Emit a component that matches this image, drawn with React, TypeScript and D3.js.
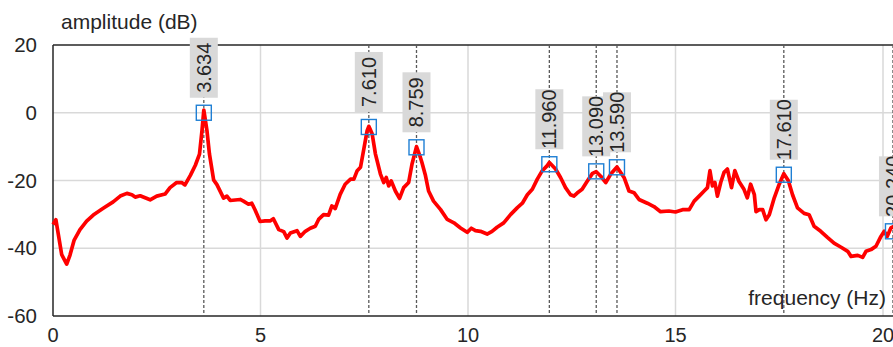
import * as React from "react";
import * as d3 from "d3";

// spectrum
const freq = [
  0.0, 0.07, 0.13, 0.21, 0.33, 0.41, 0.51, 0.65, 0.81, 0.97, 1.21, 1.45, 1.62, 1.78, 1.9, 1.98,
  2.1, 2.34, 2.5, 2.7, 2.82, 2.98, 3.1, 3.18, 3.31, 3.43, 3.53, 3.59, 3.634, 3.71, 3.77, 3.87,
  3.95, 4.11, 4.19, 4.27, 4.51, 4.59, 4.71, 4.79, 4.87, 4.99, 5.11, 5.24, 5.31, 5.44, 5.56, 5.64,
  5.72, 5.88, 5.96, 6.08, 6.2, 6.32, 6.4, 6.52, 6.64, 6.72, 6.8, 6.92, 7.04, 7.17, 7.25, 7.33,
  7.41, 7.49, 7.57, 7.61, 7.69, 7.77, 7.89, 7.97, 8.03, 8.09, 8.15, 8.25, 8.35, 8.45, 8.57, 8.65,
  8.759, 8.84, 8.89, 8.97, 9.05, 9.17, 9.34, 9.5, 9.66, 9.82, 9.98, 10.08, 10.18, 10.3, 10.46,
  10.58, 10.7, 10.86, 11.03, 11.19, 11.31, 11.43, 11.55, 11.67, 11.79, 11.91, 11.96, 12.11,
  12.23, 12.35, 12.47, 12.55, 12.63, 12.75, 12.88, 13.0, 13.09, 13.21, 13.32, 13.44, 13.59,
  13.76, 13.88, 14.0, 14.12, 14.32, 14.48, 14.64, 14.84, 15.0, 15.17, 15.33, 15.45, 15.57, 15.69,
  15.77, 15.83, 15.89, 15.95, 16.01, 16.09, 16.17, 16.25, 16.35, 16.43, 16.53, 16.65, 16.73,
  16.81, 16.9, 16.94, 17.02, 17.1, 17.18, 17.26, 17.38, 17.5, 17.61, 17.72, 17.82, 17.94, 18.1,
  18.22, 18.34, 18.5, 18.66, 18.82, 18.99, 19.15, 19.23, 19.39, 19.51, 19.59, 19.71, 19.83,
  19.95, 20.03, 20.1, 20.19, 20.27,
];
const amplitude = [
  -33.0, -31.6, -36.0, -41.9, -44.7, -42.0, -37.6, -34.5, -32.0, -30.2, -28.2, -26.3, -24.6,
  -23.8, -24.2, -24.9, -24.5, -25.7, -24.6, -24.0, -22.1, -20.6, -20.6, -21.3, -18.5, -15.5,
  -12.2, -5.3, 0.8, -5.3, -12.2, -19.8, -21.2, -25.2, -24.6, -25.9, -25.6, -26.1, -27.0, -26.7,
  -28.7, -32.1, -31.9, -31.9, -31.3, -34.5, -35.1, -37.0, -35.5, -34.8, -36.5, -35.0, -34.1,
  -33.5, -31.5, -30.1, -30.2, -27.5, -28.3, -24.1, -21.1, -19.6, -19.6, -17.1, -16.1, -10.7,
  -5.3, -4.0, -6.2, -12.2, -18.1, -20.6, -19.1, -21.6, -20.1, -23.1, -25.3, -22.1, -20.6, -15.2,
  -10.0, -12.7, -14.7, -18.3, -23.1, -26.1, -28.6, -31.5, -32.5, -34.0, -35.3, -34.1, -34.8,
  -35.0, -35.8, -35.0, -33.8, -32.5, -30.0, -28.0, -26.7, -24.2, -22.6, -19.6, -17.1, -15.6,
  -14.7, -16.6, -19.1, -22.1, -24.2, -24.6, -23.7, -22.6, -20.1, -17.9, -17.4, -18.9, -20.6,
  -18.1, -16.0, -19.1, -23.1, -23.6, -25.6, -26.7, -27.7, -29.2, -29.0, -29.3, -28.6, -28.6,
  -26.1, -24.6, -23.1, -22.1, -17.1, -21.6, -20.6, -24.6, -20.6, -17.6, -16.6, -22.1, -17.1,
  -20.3, -22.6, -25.1, -21.1, -24.2, -29.2, -28.6, -28.6, -31.6, -30.1, -25.1, -21.1, -18.0,
  -20.1, -24.2, -28.1, -29.7, -30.1, -33.5, -35.0, -36.8, -38.5, -39.7, -40.9, -42.4, -42.1,
  -42.7, -40.9, -40.4, -39.4, -36.5, -35.0, -36.5, -34.0, -33.5,
];

// picked peaks
const peakFreq = [3.634, 7.61, 8.759, 11.96, 13.09, 13.59, 17.61, 20.24];
const peakAmp = [0, -4.2, -10.2, -15.2, -17.3, -16.1, -18.3, -35];

const xTicks = [0, 5, 10, 15, 20];
const yTicks = [20, 0, -20, -40, -60];

const W = 893;
const H = 347;
const FONT = "Liberation Sans, Arial, sans-serif";

export default function App() {
  const ref = React.useRef<SVGSVGElement>(null);

  React.useEffect(() => {
    const svg = d3.select(ref.current);
    svg.selectAll("*").remove();

    const x = d3.scaleLinear().domain([0, 20]).range([53, 883]);
    const y = d3.scaleLinear().domain([-60, 20]).range([316, 45]);
    const right = W;

    // grid
    svg.append("g")
      .selectAll("line.h")
      .data(yTicks.filter((t) => t !== 20 && t !== -60))
      .enter()
      .append("line")
      .attr("x1", x(0)).attr("x2", right)
      .attr("y1", (d) => y(d)).attr("y2", (d) => y(d))
      .attr("stroke", "#d9d9d9").attr("stroke-width", 1.5);
    svg.append("g")
      .selectAll("line.v")
      .data(xTicks.filter((t) => t !== 0))
      .enter()
      .append("line")
      .attr("x1", (d) => x(d)).attr("x2", (d) => x(d))
      .attr("y1", y(20)).attr("y2", y(-60))
      .attr("stroke", "#d9d9d9").attr("stroke-width", 1.5);

    // frame
    svg.append("line").attr("x1", x(0)).attr("x2", right).attr("y1", y(20)).attr("y2", y(20))
      .attr("stroke", "#262626").attr("stroke-width", 1.5);
    svg.append("line").attr("x1", x(0)).attr("x2", right).attr("y1", y(-60)).attr("y2", y(-60))
      .attr("stroke", "#262626").attr("stroke-width", 1.5);
    svg.append("line").attr("x1", x(0)).attr("x2", x(0)).attr("y1", y(20)).attr("y2", y(-60))
      .attr("stroke", "#262626").attr("stroke-width", 1.5);

    // tick labels
    svg.append("g")
      .selectAll("text")
      .data(yTicks)
      .enter()
      .append("text")
      .attr("x", 37).attr("y", (d) => y(d))
      .attr("dy", "0.35em")
      .attr("text-anchor", "end")
      .style("font-family", FONT).style("font-size", "20.5px").style("fill", "#262626")
      .text((d) => d);
    svg.append("g")
      .selectAll("text")
      .data(xTicks)
      .enter()
      .append("text")
      .attr("x", (d) => x(d)).attr("y", 342)
      .attr("text-anchor", "middle")
      .style("font-family", FONT).style("font-size", "20px").style("fill", "#262626")
      .text((d) => d);

    svg.append("text").attr("x", 61).attr("y", 29)
      .style("font-family", FONT).style("font-size", "21px").style("fill", "#262626")
      .text("amplitude (dB)");
    svg.append("text").attr("x", 886).attr("y", 305)
      .attr("text-anchor", "end")
      .style("font-family", FONT).style("font-size", "21px").style("fill", "#262626")
      .text("frequency (Hz)");

    // dashed peak lines
    svg.append("g")
      .selectAll("line")
      .data(peakFreq)
      .enter()
      .append("line")
      .attr("x1", (d) => x(d)).attr("x2", (d) => x(d))
      .attr("y1", y(20)).attr("y2", y(-60))
      .attr("stroke", "#595959").attr("stroke-width", 1.3)
      .attr("stroke-dasharray", "3,2");

    // spectrum
    const pts = freq.map((f, i) => [f, amplitude[i]] as [number, number]);
    const line = d3.line<[number, number]>().x((d) => x(d[0])).y((d) => y(d[1]));
    svg.append("path")
      .attr("d", line(pts))
      .attr("fill", "none")
      .attr("stroke", "#ff0000")
      .attr("stroke-width", 3.7)
      .attr("stroke-linejoin", "round");

    // markers
    const peaks = peakFreq.map((f, i) => ({ f, a: peakAmp[i] }));
    svg.append("g")
      .selectAll("rect")
      .data(peaks)
      .enter()
      .append("rect")
      .attr("x", (d) => x(d.f) - 7.5).attr("y", (d) => y(d.a) - 7.5)
      .attr("width", 15).attr("height", 15)
      .attr("fill", "none")
      .attr("stroke", "#1f7fd4").attr("stroke-width", 1.4);

    // labels
    const lab = svg.append("g")
      .selectAll("g")
      .data(peaks)
      .enter()
      .append("g")
      .attr("transform", (d) => `translate(${x(d.f)} ${y(d.a) - 15})`);
    lab.append("rect")
      .attr("x", -14).attr("y", -60)
      .attr("width", 28).attr("height", 60)
      .attr("fill", "#d9d9d9");
    lab.append("text")
      .attr("transform", "translate(0 -30) rotate(-90)")
      .attr("text-anchor", "middle")
      .attr("dy", "0.35em")
      .style("font-family", FONT).style("font-size", "20px").style("fill", "#262626")
      .text((d) => d.f.toFixed(3));
  }, []);

  return (
    <>
      <style>{"body{margin:0}"}</style>
      <svg ref={ref} width={W} height={H} style={{ display: "block" }} />
    </>
  );
}
